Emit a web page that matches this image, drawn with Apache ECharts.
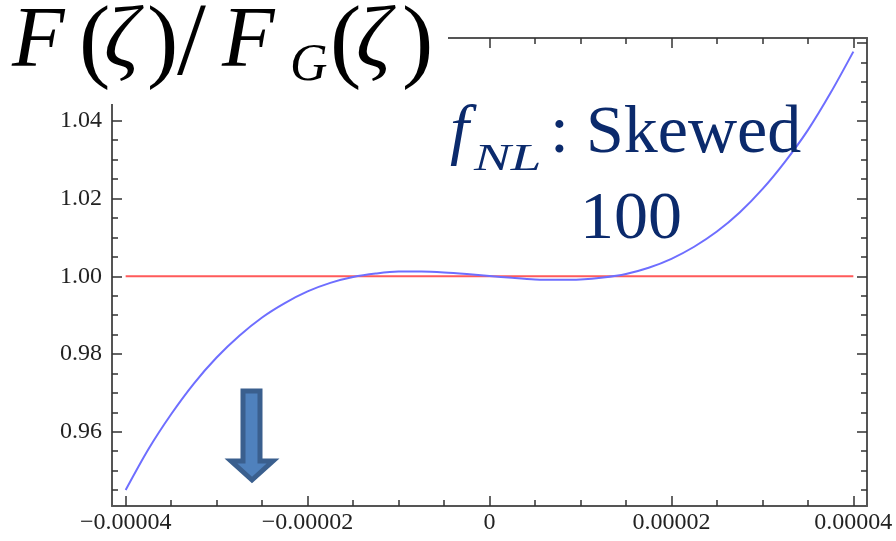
<!DOCTYPE html>
<html>
<head>
<meta charset="utf-8">
<script src="https://cdn.jsdelivr.net/npm/echarts@6/dist/echarts.min.js"></script>
<style>
html,body{margin:0;padding:0;background:#fff;}
#chart{width:896px;height:541px;}
</style>
</head>
<body>
<div id="chart"></div>
<script>
// ---- data ----
const curveX = [-0.00004, -0.0000375, -0.000035, -0.0000325, -0.00003, -0.0000275, -0.000025, -0.0000225, -0.00002, -0.0000175, -0.000015, -0.0000125, -0.00001, -0.0000075, -0.000005, -0.0000025, 0, 0.0000025, 0.000005, 0.0000075, 0.00001, 0.0000125, 0.000015, 0.0000175, 0.00002, 0.0000225, 0.000025, 0.0000275, 0.00003, 0.0000325, 0.000035, 0.0000375, 0.00004];
const curveY = [0.9450, 0.9555, 0.9645, 0.9724, 0.9791, 0.9847, 0.9894, 0.9931, 0.9961, 0.9983, 0.9998, 1.0007, 1.0012, 1.0012, 1.0010, 1.0006, 1.0001, 0.9996, 0.9992, 0.9991, 0.9992, 0.9997, 1.0006, 1.0022, 1.0045, 1.0076, 1.0115, 1.0164, 1.0224, 1.0295, 1.0376, 1.0472, 1.0578];
const refLineX = [-0.00004, 0.00004];
const refLineY = [1.0, 1.0];

const xLabelTicks = [-0.00004, -0.00002, 0, 0.00002, 0.00004];
const xMinorTicks = [-0.000035, -0.00003, -0.000025, -0.000015, -0.00001, -0.000005, 0.000005, 0.00001, 0.000015, 0.000025, 0.00003, 0.000035];
const yLabelTicks = [0.96, 0.98, 1.00, 1.02, 1.04];
const yMajorTicks = [0.96, 0.98, 1.00, 1.02, 1.04, 1.06];
const yMinorTicks = [0.945, 0.95, 0.955, 0.965, 0.97, 0.975, 0.985, 0.99, 0.995, 1.005, 1.01, 1.015, 1.025, 1.03, 1.035, 1.045, 1.05, 1.055];

const xMin = -0.0000415, xMax = 0.0000415;
const yMin = 0.9409, yMax = 1.0613;

const titleParts = ['F', '(', 'ζ', ')', '/', 'F', 'G', '(', 'ζ', ')'];
const noteLine1 = ['f', 'NL', ':', 'Skewed'];
const noteLine2 = '100';

// ---- chart ----
const AX = '#555', TK = '#333', LBL = '#222';
const FONT = '"Liberation Serif", "Times New Roman", serif';

function fmtX(v) {
  if (Math.abs(v) < 1e-12) return '0';
  return (v < 0 ? '\u2212' : '') + Math.abs(v).toFixed(5);
}

function xAx(pos, ticks, len, labels, line) {
  return {
    type: 'value', position: pos, min: xMin, max: xMax, gridIndex: 0,
    splitLine: {show: false},
    axisLine: {show: line, onZero: false, lineStyle: {color: AX, width: 2}},
    axisTick: {show: true, inside: true, length: len, customValues: ticks, lineStyle: {color: TK, width: 1.5}},
    axisLabel: labels ? {show: true, customValues: xLabelTicks, formatter: fmtX, fontFamily: FONT, fontSize: 24, color: LBL, margin: 5} : {show: false}
  };
}
function yAx(pos, ticks, len, labels, line) {
  return {
    type: 'value', position: pos, min: yMin, max: yMax, gridIndex: 0,
    splitLine: {show: false},
    axisLine: {show: line, onZero: false, lineStyle: {color: AX, width: 2}},
    axisTick: {show: true, inside: true, length: len, customValues: ticks, lineStyle: {color: TK, width: 1.5}},
    axisLabel: labels ? {show: true, customValues: yLabelTicks, formatter: v => v.toFixed(2), fontFamily: FONT, fontSize: 24, color: LBL, margin: 10} : {show: false}
  };
}

const chart = echarts.init(document.getElementById('chart'), null, {renderer: 'canvas'});

const curveData = curveX.map((x, i) => [x, curveY[i]]);
const refData = refLineX.map((x, i) => [x, refLineY[i]]);

const navy = '#0b2a6c';
function txt(x, y, s, size, italic, color, sx) {
  return {type: 'text', x: x, y: y, z: 110, scaleX: sx || 1,
    style: {text: s, fontFamily: FONT, fontSize: size, fontStyle: italic ? 'italic' : 'normal', fill: color, verticalAlign: 'middle', align: 'left'}};
}

const graphics = [
  {type: 'rect', z: 100, shape: {x: 0, y: 0, width: 448, height: 104}, style: {fill: '#fff'}},
  txt(12, 43, titleParts[0], 86, true, '#000'),
  txt(79, 45, titleParts[1], 94, false, '#000'),
  txt(104, 43, titleParts[2], 86, true, '#000'),
  txt(147, 45, titleParts[3], 94, false, '#000'),
  txt(177, 47, titleParts[4], 104, false, '#000'),
  txt(222, 43, titleParts[5], 86, true, '#000'),
  txt(290, 66, titleParts[6], 52, true, '#000'),
  txt(330, 45, titleParts[7], 94, false, '#000'),
  txt(356, 43, titleParts[8], 86, true, '#000'),
  txt(402, 45, titleParts[9], 94, false, '#000'),
  txt(450, 134, noteLine1[0], 68, true, navy),
  txt(474, 160, noteLine1[1], 38, true, navy, 1.45),
  txt(550, 134, noteLine1[2], 68, false, navy),
  txt(586, 134, noteLine1[3], 68, false, navy),
  txt(580, 220, noteLine2, 68, false, navy),
  {type: 'polygon', z: 105,
   shape: {points: [[243, 391], [260, 391], [260, 461], [273, 461], [252, 480], [231, 461], [243, 461]]},
   style: {fill: '#4f81bd', stroke: '#3a5f8e', lineWidth: 5, lineJoin: 'miter'}}
];

chart.setOption({
  backgroundColor: '#fff',
  animation: false,
  grid: {left: 112, right: 29, top: 38, bottom: 35, containLabel: false},
  xAxis: [
    xAx('bottom', xLabelTicks, 10, true, true),
    xAx('bottom', xMinorTicks, 6, false, false),
    xAx('top', xLabelTicks, 10, false, true),
    xAx('top', xMinorTicks, 6, false, false)
  ],
  yAxis: [
    yAx('left', yMajorTicks, 10, true, true),
    yAx('left', yMinorTicks, 6, false, false),
    yAx('right', yMajorTicks, 10, false, true),
    yAx('right', yMinorTicks, 6, false, false)
  ],
  series: [
    {type: 'line', name: 'ref', data: refData, xAxisIndex: 0, yAxisIndex: 0, showSymbol: false, symbol: 'none',
     lineStyle: {color: '#ff5a5a', width: 2}, z: 2},
    {type: 'line', name: 'ratio', data: curveData, xAxisIndex: 0, yAxisIndex: 0, showSymbol: false, symbol: 'none', smooth: 0.3,
     lineStyle: {color: '#6e6eff', width: 2}, z: 3}
  ],
  graphic: graphics
});
</script>
</body>
</html>
